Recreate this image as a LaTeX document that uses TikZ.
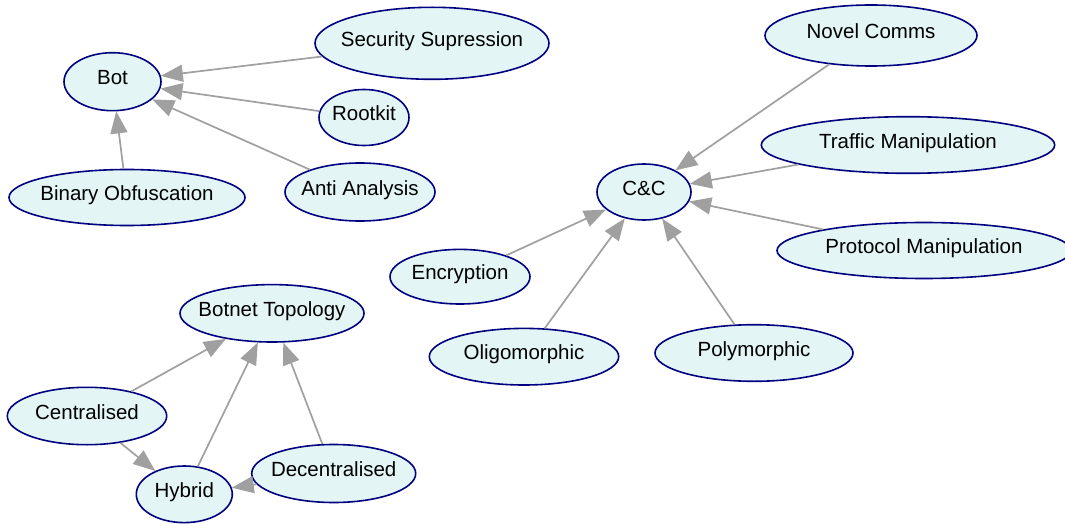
\documentclass[tikz,border=0pt]{standalone}
\usepackage{fontspec}
\setmainfont{Liberation Sans}
\usetikzlibrary{shapes.geometric,arrows.meta}

\definecolor{nodefill}{RGB}{227,245,245}
\definecolor{nodeline}{RGB}{0,0,128}
\definecolor{edgeline}{RGB}{160,160,160}

\tikzset{
  entity/.style={ellipse, draw=nodeline, fill=nodefill, line width=1.6pt, inner sep=0pt},
  lbl/.style={inner sep=0pt, font=\fontsize{20.5}{24}\selectfont,
              text height=0.72em, text depth=0.12em, text=black},
  link/.style={draw=edgeline, line width=1.7pt,
               -{Triangle[length=22pt, width=17pt, fill=edgeline]}},
}

% an ellipse of given half axes with its caption centred in it
\newcommand{\entity}[6]{%
  \node[entity, minimum width=#4*2pt, minimum height=#5*2pt,
        label={[lbl]center:#6}] (#1) at (#2,#3) {};}

\begin{document}
\begin{tikzpicture}[x=1pt, y=-1pt]
\useasboundingbox (0,0) rectangle (1065,524);

% Bot cluster
\entity{bot}{112.5}{81.7}{48.5}{29}{Bot}
\entity{secsup}{432}{43.3}{117}{36}{Security Supression}
\entity{rootkit}{364}{117.5}{45}{28}{Rootkit}
\entity{antia}{360}{192}{75}{29}{Anti Analysis}
\entity{binobf}{127}{197.5}{118}{28}{Binary Obfuscation}

% C&C cluster
\entity{cc}{644}{192}{47}{28}{C\&C}
\entity{novel}{871}{35.5}{106}{30.5}{Novel Comms}
\entity{traffic}{908}{145}{146.7}{28.3}{Traffic Manipulation}
\entity{proto}{924}{250.5}{147}{28}{Protocol Manipulation}
\entity{encr}{460}{276.7}{70}{27.3}{Encryption}
\entity{oligo}{524}{356.7}{94.7}{28.3}{Oligomorphic}
\entity{poly}{754}{353}{99}{28.3}{Polymorphic}

% Topology cluster
\entity{topo}{272}{313.3}{92}{28.7}{Botnet Topology}
\entity{central}{87}{416}{79.7}{28.7}{Centralised}
\entity{hybrid}{184.3}{494.3}{48}{28.3}{Hybrid}
\entity{decentral}{333.7}{473.5}{82}{29}{Decentralised}

% connectors
\draw[link] (secsup) -- (bot);
\draw[link] (rootkit) -- (bot);
\draw[link] (antia) -- (bot);
\draw[link] (binobf) -- (bot);

\draw[link] (novel) -- (cc);
\draw[link] (traffic) -- (cc);
\draw[link] (proto) -- (cc);
\draw[link] (encr) -- (cc);
\draw[link] (oligo) -- (cc);
\draw[link] (poly) -- (cc);

\draw[link] (central) -- (topo);
\draw[link] (hybrid) -- (topo);
\draw[link] (decentral) -- (topo);
\draw[link] (central) -- (hybrid);
\draw[link] (decentral) -- (hybrid);
\end{tikzpicture}
\end{document}
